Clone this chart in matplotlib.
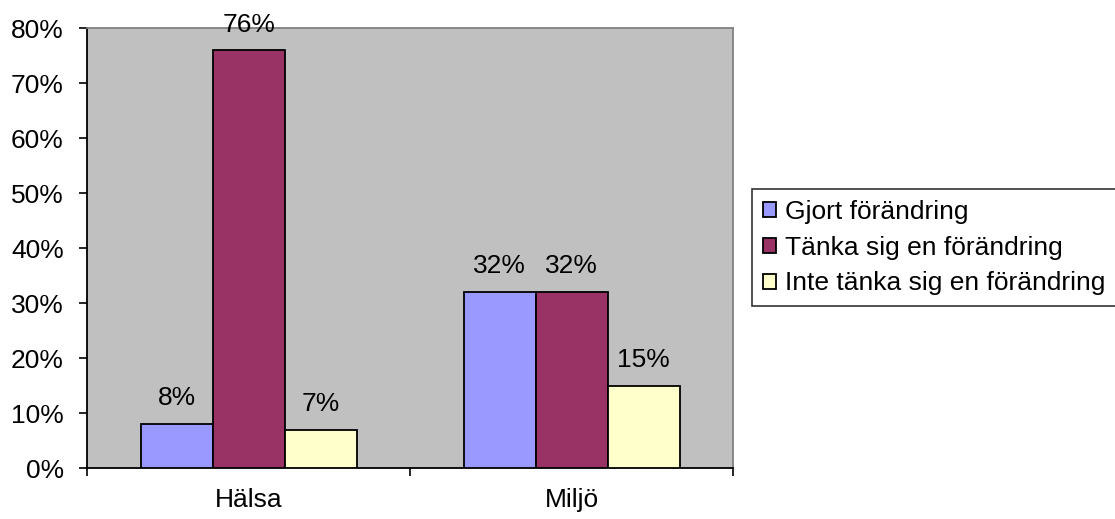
import matplotlib.pyplot as plt
import numpy as np

plt.rcParams['font.family'] = ['Liberation Sans', 'DejaVu Sans']

categories = ['Hälsa', 'Miljö']
series = ['Gjort förändring', 'Tänka sig en förändring', 'Inte tänka sig en förändring']
values = [
    [8, 32],
    [76, 32],
    [7, 15],
]
colors = ['#9999FF', '#993366', '#FFFFCC']
yticks = [0, 10, 20, 30, 40, 50, 60, 70, 80]

fs = 19
fig = plt.figure(figsize=(11.15, 5.19), dpi=100)
ax = fig.add_axes([0.0783, 0.0977, 0.5794, 0.8474])
ax.set_facecolor('#C0C0C0')

x = np.arange(len(categories))
w = 0.223
for i, (name, vals) in enumerate(zip(series, values)):
    pos = x + (i - 1) * w
    bars = ax.bar(pos, vals, width=w, color=colors[i], edgecolor='black',
                  linewidth=1.3, label=name, zorder=3)
    for b, v in zip(bars, vals):
        ax.annotate(f'{v}%', (b.get_x() + b.get_width() / 2, v),
                    xytext=(0, 10), textcoords='offset points',
                    ha='center', va='bottom', fontsize=fs)

ax.set_xlim(-0.5, 1.5)
ax.set_ylim(0, 80)
ax.set_yticks(yticks)
ax.set_yticklabels([f'{t}%' for t in yticks], fontsize=fs)

# category labels in the middle, tick marks at the borders
ax.set_xticks([-0.5, 0.5, 1.5])
ax.set_xticklabels([])
ax.set_xticks(x, minor=True)
ax.set_xticklabels(categories, minor=True, fontsize=fs)
ax.tick_params(axis='x', which='minor', length=0, pad=14)
ax.tick_params(axis='x', which='major', length=6, width=1.2, direction='out')
ax.tick_params(axis='y', length=6, width=1.2, direction='out', pad=11)

for s in ['left', 'bottom']:
    ax.spines[s].set_color('black')
    ax.spines[s].set_linewidth(1.3)
for s in ['top', 'right']:
    ax.spines[s].set_color('#808080')
    ax.spines[s].set_linewidth(1.3)

leg = fig.legend(loc='center left', bbox_to_anchor=(0.6745, 0.523),
                 fontsize=fs, frameon=True, fancybox=False, edgecolor='black',
                 handlelength=0.5, handleheight=0.5, handletextpad=0.35,
                 labelspacing=0.45, borderpad=0.4, borderaxespad=0)
leg.get_frame().set_linewidth(1.2)

fig.savefig('out.png', dpi=100)
